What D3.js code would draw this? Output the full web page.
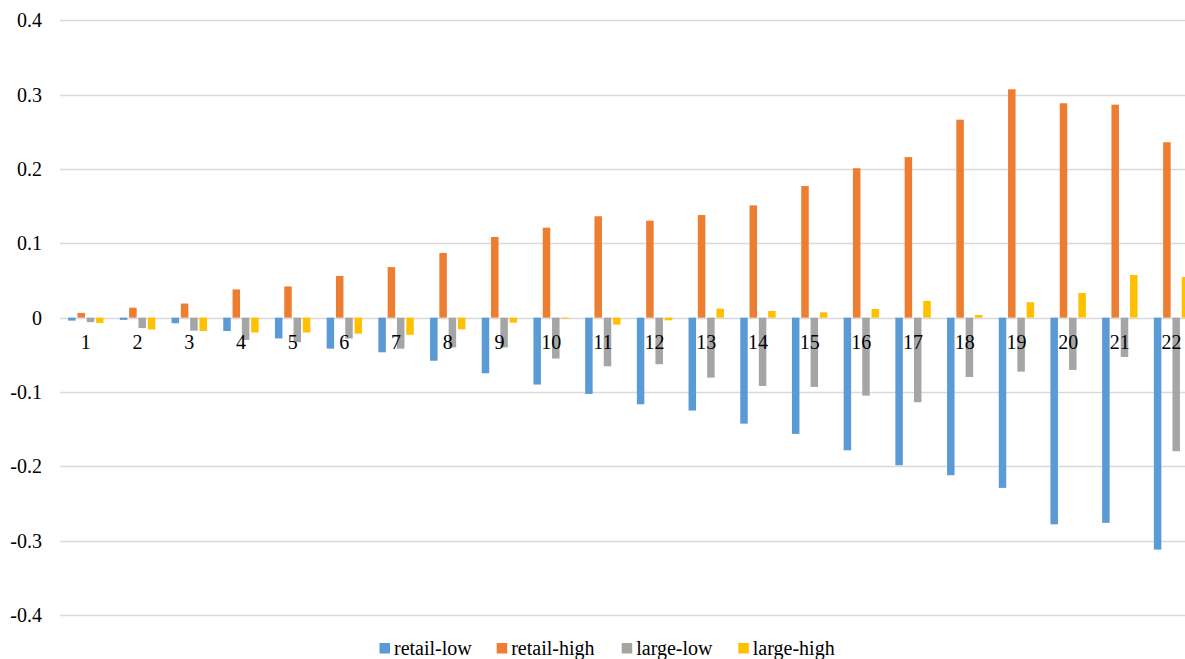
<!DOCTYPE html>
<html><head><meta charset="utf-8">
<script src="https://cdn.jsdelivr.net/npm/d3@7"></script>
<style>body{margin:0;background:#fff;} svg{display:block;} text{font-family:"Liberation Serif","Times New Roman",Times,"DejaVu Serif",serif;}</style>
</head><body>
<svg id="chart" width="1185" height="659"></svg>
<script>
const categories = ["1","2","3","4","5","6","7","8","9","10","11","12","13","14","15","16","17","18","19","20","21","22"];
const seriesNames = ["retail-low","retail-high","large-low","large-high"];
const retailLow  = [-0.004,-0.003,-0.0075,-0.018,-0.028,-0.0417,-0.0466,-0.058,-0.0748,-0.090,-0.1026,-0.1165,-0.125,-0.1426,-0.1564,-0.1784,-0.1986,-0.212,-0.229,-0.278,-0.276,-0.312];
const retailHigh = [0.0063,0.0134,0.019,0.038,0.042,0.056,0.068,0.087,0.1085,0.121,0.1364,0.1305,0.138,0.151,0.177,0.201,0.216,0.2663,0.3072,0.2884,0.2865,0.236];
const largeLow   = [-0.006,-0.014,-0.0175,-0.030,-0.033,-0.028,-0.0417,-0.040,-0.040,-0.055,-0.0654,-0.0627,-0.0807,-0.0919,-0.0932,-0.1049,-0.1138,-0.0798,-0.0726,-0.0703,-0.0529,-0.1797];
const largeHigh  = [-0.007,-0.016,-0.018,-0.020,-0.020,-0.0215,-0.023,-0.0157,-0.0067,-0.0013,-0.0094,-0.0036,0.0121,0.009,0.0072,0.0117,0.0225,0.0036,0.0207,0.0332,0.0574,0.0547];
const yTicks = [0.4,0.3,0.2,0.1,0,-0.1,-0.2,-0.3,-0.4];
const yTickLabels = ["0.4","0.3","0.2","0.1","0","-0.1","-0.2","-0.3","-0.4"];
const colors = ["#5B9BD5","#ED7D31","#A5A5A5","#FFC000"];
const seriesValues = [retailLow, retailHigh, largeLow, largeHigh];

const svg = d3.select("#chart");

const y = d3.scaleLinear().domain([-0.4,0.4]).range([615,20.3]);
const x0 = d3.scaleBand().domain(categories).range([60, 60 + 22*51.7]).padding(0);
const x1 = d3.scaleBand().domain(seriesNames).range([0, x0.bandwidth()]).paddingInner(0.194).paddingOuter(0.876);

// gridlines
svg.append("g").selectAll("line").data(yTicks).join("line")
  .attr("x1",60).attr("x2",1185)
  .attr("y1",d=>Math.round(y(d))+0.5).attr("y2",d=>Math.round(y(d))+0.5)
  .attr("stroke","#D9D9D9").attr("stroke-width",1.3);

// y labels
svg.append("g").selectAll("text").data(yTicks).join("text")
  .attr("x",42).attr("y",d=>y(d)+7)
  .attr("text-anchor","end")
  .attr("font-size",20).attr("fill","#000")
  .text((d,i)=>yTickLabels[i]);

// bars
const groups = svg.append("g").selectAll("g").data(categories).join("g")
  .attr("transform",d=>`translate(${x0(d)},0)`);
groups.selectAll("rect").data((c,ci)=>seriesNames.map((s,si)=>({s, si, v: seriesValues[si][ci]}))).join("rect")
  .attr("x",d=>x1(d.s)).attr("width",x1.bandwidth())
  .attr("y",d=>Math.min(y(d.v),y(0)))
  .attr("height",d=>Math.abs(y(d.v)-y(0)))
  .attr("fill",d=>colors[d.si]);

// category labels
svg.append("g").selectAll("text").data(categories).join("text")
  .attr("x",d=>x0(d)+x0.bandwidth()/2).attr("y",349)
  .attr("text-anchor","middle")
  .attr("font-size",20).attr("fill","#000")
  .text(d=>d);

// legend
const legendX = [379.5, 496.7, 621.7, 738.3];
const leg = svg.append("g").selectAll("g").data(seriesNames).join("g")
  .attr("transform",(d,i)=>`translate(${legendX[i]},0)`);
leg.append("rect").attr("x",0).attr("y",643).attr("width",10.5).attr("height",10.5).attr("fill",(d,i)=>colors[i]);
leg.append("text").attr("x",14.5).attr("y",655)
  .attr("font-size",20).attr("fill","#000")
  .text(d=>d);
</script>
</body></html>
